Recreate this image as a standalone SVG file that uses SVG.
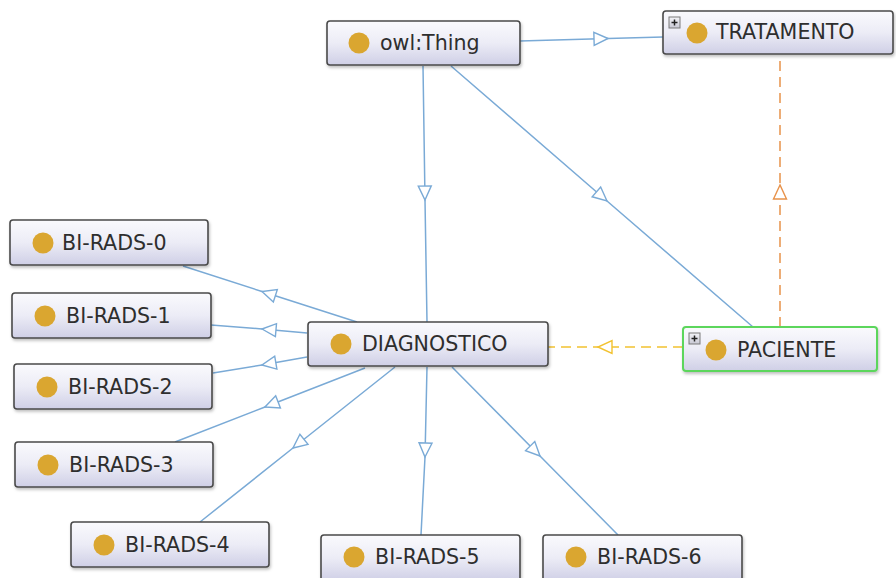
<svg xmlns="http://www.w3.org/2000/svg" width="896" height="578" viewBox="0 0 896 578">
<defs>
<linearGradient id="g" x1="0" y1="0" x2="0" y2="1">
<stop offset="0" stop-color="#FAFAFD"/>
<stop offset="0.5" stop-color="#ECECF6"/>
<stop offset="1" stop-color="#CFCFE6"/>
</linearGradient>
<linearGradient id="pg" x1="0" y1="0" x2="0" y2="1">
<stop offset="0" stop-color="#F4F4F8"/>
<stop offset="1" stop-color="#C8C8D4"/>
</linearGradient>
<filter id="sh" x="-10%" y="-20%" width="120%" height="150%">
<feDropShadow dx="1" dy="2" stdDeviation="1.5" flood-color="#000" flood-opacity="0.25"/>
</filter>
<marker id="ab" viewBox="-16 -8 18 16" refX="0" refY="0" markerWidth="18" markerHeight="16" markerUnits="userSpaceOnUse" orient="auto">
<path d="M0,0 L-14,-6.5 L-14,6.5 Z" fill="#fff" stroke="#7AAAD6" stroke-width="1.4"/>
</marker>
<marker id="ao" viewBox="-16 -8 18 16" refX="0" refY="0" markerWidth="18" markerHeight="16" markerUnits="userSpaceOnUse" orient="auto">
<path d="M0,0 L-14,-6.5 L-14,6.5 Z" fill="#fff" stroke="#E8924A" stroke-width="1.4"/>
</marker>
<marker id="ay" viewBox="-16 -8 18 16" refX="0" refY="0" markerWidth="18" markerHeight="16" markerUnits="userSpaceOnUse" orient="auto">
<path d="M0,0 L-14,-6.5 L-14,6.5 Z" fill="#fff" stroke="#F2C230" stroke-width="1.4"/>
</marker>
</defs>
<style>
.box{fill:url(#g);stroke:#4A4A4A;stroke-width:1.6;filter:url(#sh)}
.pbox{fill:url(#g);stroke:#5CD65C;stroke-width:2;filter:url(#sh)}
.dot{fill:#DAA630}
.lbl{font-family:"DejaVu Sans",sans-serif;font-size:20.6px;fill:#2E2E2E}
.blue{fill:none;stroke:#7AAAD6;stroke-width:1.5;marker-mid:url(#ab)}
.orange{fill:none;stroke:#E8924A;stroke-width:1.5;stroke-dasharray:10 6;marker-mid:url(#ao)}
.yellow{fill:none;stroke:#F2C230;stroke-width:1.5;stroke-dasharray:10 6;marker-mid:url(#ay)}
.plus{fill:url(#pg);stroke:#7A7A7A;stroke-width:1}
.pl{stroke:#222;stroke-width:1.5}
</style>
<g id="connectors">
<path class="blue" d="M520,41 L608,38.5 L663,37"/>
<path class="blue" d="M423,66 L425,200 L427,322"/>
<path class="blue" d="M451,66 L607,201 L753,327"/>
<path class="orange" d="M780,327 L780,185 L780,55"/>
<path class="yellow" d="M683,347 L598,347 L548,347"/>
<path class="blue" d="M357,322 L262,291.5 L183,266"/>
<path class="blue" d="M307,333 L262,329 L211,325"/>
<path class="blue" d="M307,357 L262,365 L213,373"/>
<path class="blue" d="M365,368 L265,407 L175,442"/>
<path class="blue" d="M395,367 L293,448 L200,522"/>
<path class="blue" d="M427,367 L425,457 L421,535"/>
<path class="blue" d="M452,367 L540,456 L618,535"/>
</g>
<g id="owlThing">
<rect class="box" x="327" y="21" width="193" height="44" rx="3"/>
<circle class="dot" cx="359" cy="43" r="10.5"/>
<text class="lbl" x="380" y="50">owl:Thing</text>
</g>
<g id="tratamento">
<rect class="box" x="663" y="11" width="230" height="43" rx="3"/>
<rect class="plus" x="669" y="17" width="11" height="11"/>
<line class="pl" x1="671.5" y1="22.5" x2="677.5" y2="22.5"/>
<line class="pl" x1="674.5" y1="19.5" x2="674.5" y2="25.5"/>
<circle class="dot" cx="697" cy="33" r="10.5"/>
<text class="lbl" x="716" y="39">TRATAMENTO</text>
</g>
<g id="paciente">
<rect class="pbox" x="683" y="327" width="194" height="44" rx="3"/>
<rect class="plus" x="689" y="333" width="11" height="11"/>
<line class="pl" x1="691.5" y1="338.5" x2="697.5" y2="338.5"/>
<line class="pl" x1="694.5" y1="335.5" x2="694.5" y2="341.5"/>
<circle class="dot" cx="716" cy="350" r="10.5"/>
<text class="lbl" x="737" y="357">PACIENTE</text>
</g>
<g id="diagnostico">
<rect class="box" x="308" y="322" width="240" height="44" rx="3"/>
<circle class="dot" cx="341" cy="344" r="10.5"/>
<text class="lbl" x="362" y="351">DIAGNOSTICO</text>
</g>
<g id="birads0">
<rect class="box" x="10" y="220" width="198" height="45" rx="3"/>
<circle class="dot" cx="43" cy="243" r="10.5"/>
<text class="lbl" x="62" y="250">BI-RADS-0</text>
</g>
<g id="birads1">
<rect class="box" x="12" y="293" width="199" height="45" rx="3"/>
<circle class="dot" cx="45" cy="316" r="10.5"/>
<text class="lbl" x="66" y="323">BI-RADS-1</text>
</g>
<g id="birads2">
<rect class="box" x="14" y="364" width="198" height="45" rx="3"/>
<circle class="dot" cx="47" cy="387" r="10.5"/>
<text class="lbl" x="68" y="394">BI-RADS-2</text>
</g>
<g id="birads3">
<rect class="box" x="15" y="442" width="198" height="45" rx="3"/>
<circle class="dot" cx="48" cy="465" r="10.5"/>
<text class="lbl" x="69" y="472">BI-RADS-3</text>
</g>
<g id="birads4">
<rect class="box" x="71" y="522" width="198" height="45" rx="3"/>
<circle class="dot" cx="104" cy="545" r="10.5"/>
<text class="lbl" x="125" y="552">BI-RADS-4</text>
</g>
<g id="birads5">
<rect class="box" x="321" y="535" width="199" height="46" rx="3"/>
<circle class="dot" cx="354" cy="557" r="10.5"/>
<text class="lbl" x="375" y="564">BI-RADS-5</text>
</g>
<g id="birads6">
<rect class="box" x="543" y="535" width="199" height="46" rx="3"/>
<circle class="dot" cx="576" cy="557" r="10.5"/>
<text class="lbl" x="597" y="564">BI-RADS-6</text>
</g>
</svg>
